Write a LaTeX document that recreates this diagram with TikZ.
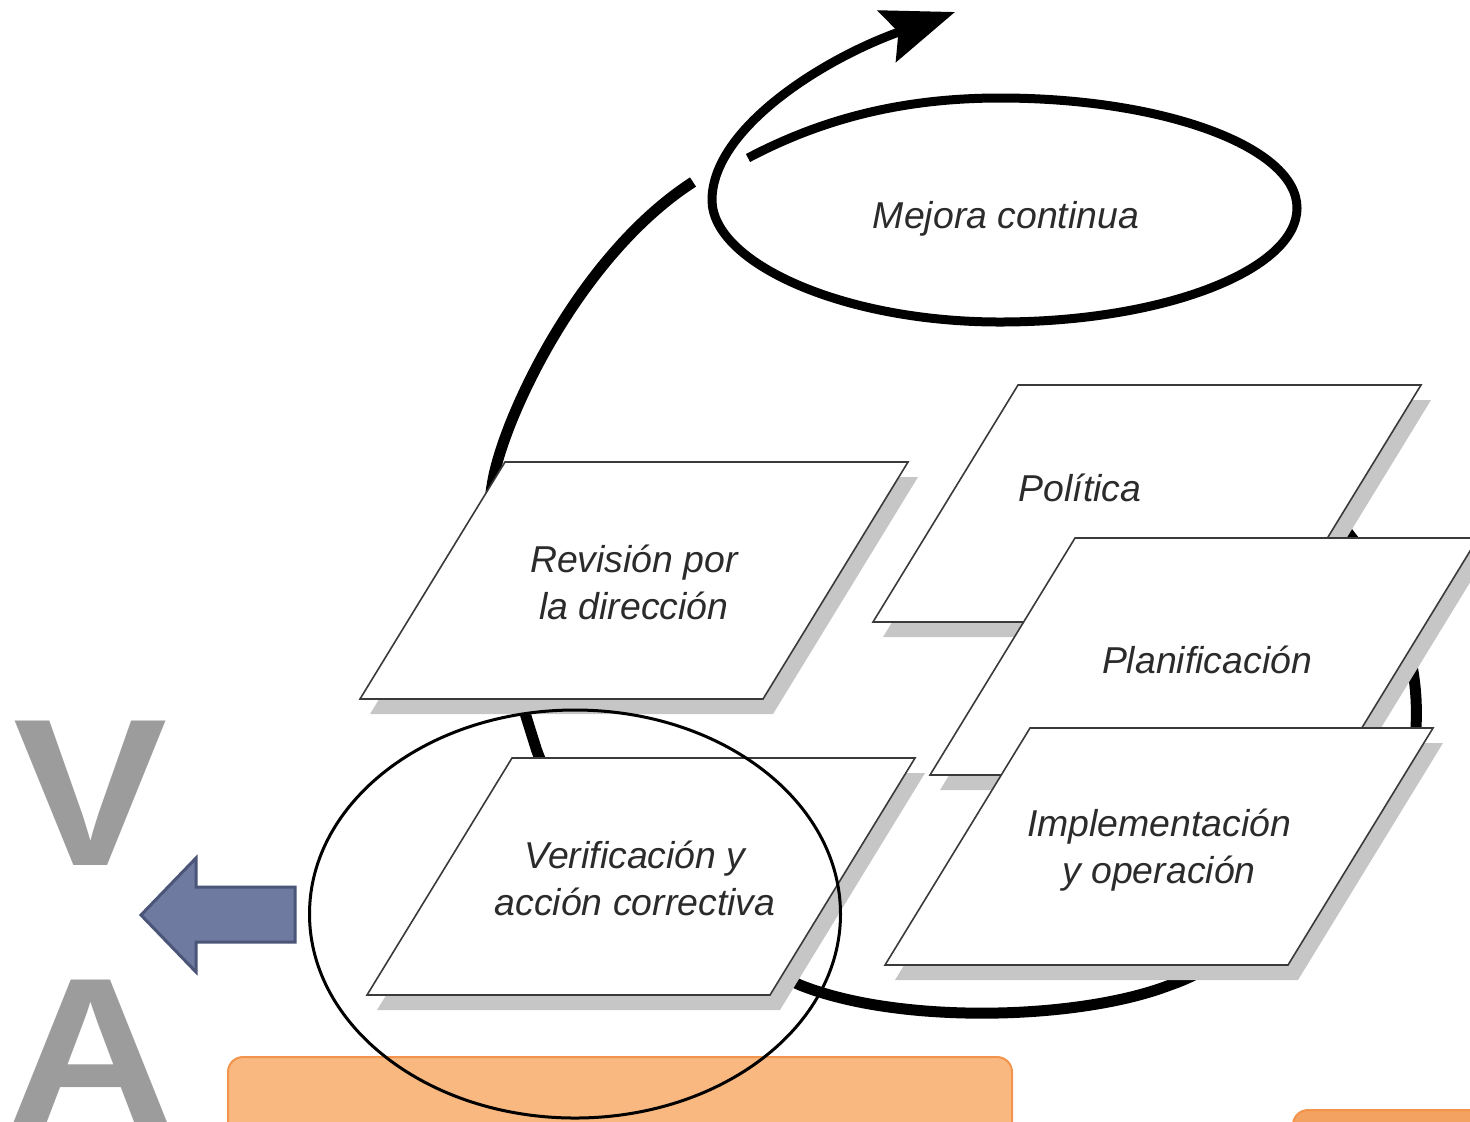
\documentclass[tikz,border=0pt]{standalone}
\usepackage{fontspec}
\setmainfont{Liberation Sans}
\usetikzlibrary{arrows.meta}
\definecolor{sombra}{HTML}{C6C6C6}
\definecolor{borde}{HTML}{3A3A3A}
\definecolor{texto}{HTML}{2B2B2B}
\definecolor{naranja}{HTML}{F8B880}
\definecolor{naranjaborde}{HTML}{F2944C}
\definecolor{naranjados}{HTML}{F4A262}
\definecolor{azul}{HTML}{6F7AA0}
\definecolor{azulborde}{HTML}{4A5577}
\definecolor{letra}{HTML}{9C9C9C}

\begin{document}
\begin{tikzpicture}[x=0.5pt, y=-0.5pt,
  paso/.style={draw=borde, line width=0.8pt, fill=white},
  sombrapaso/.style={fill=sombra},
  etiqueta/.style={font=\fontsize{18.7}{23.5}\selectfont\itshape, text=texto, align=center, inner sep=0pt},
  ciclo/.style={line width=5.5pt, black},
  letras/.style={font=\fontsize{105}{105}\selectfont\bfseries, text=letra, inner sep=0pt, xscale=1.1}]
\useasboundingbox (0,0) rectangle (1470,1121);
\clip (0,0) rectangle (1470,1121);

\filldraw[fill=naranja, draw=naranjaborde, line width=1pt, rounded corners=7.5pt] (228,1057) rectangle (1012,1160);
\filldraw[fill=naranjados, draw=naranjaborde, line width=1pt, rounded corners=7.5pt] (1293,1110) rectangle (1500,1160);

\coordinate (c0) at (1290,470);
\coordinate (c5) at (693,182);
\draw[ciclo] (c0) .. controls (1380,555) and (1425,640) .. (1415,740)
  .. controls (1395,860) and (1230,965) .. (1170,985)
  .. controls (1080,1020) and (900,1025) .. (800,985)
  .. controls (700,940) and (560,830) .. (535,745)
  .. controls (505,650) and (478,560) .. (493,480)
  .. controls (505,415) and (580,255) .. (c5);

\foreach \x/\y/\n/\dx/\dy/\t in {1018/385/pol/-67/-17/{Política},
  1075/538/pla/3/2/{Planificación},
  1030/728/imp/0/2/{Implementación\\y operación},
  505/462/rev/0/0/{Revisión por\\la dirección},
  512/758/ver/-6/0/{Verificación y\\acción correctiva}}{
  \fill[sombrapaso] (\x+10,\y+15) -- ++(403,0) -- ++(-145,237) -- ++(-403,0) -- cycle;
  \draw[paso] (\x,\y) -- ++(403,0) -- ++(-145,237) -- ++(-403,0) -- cycle;
  \node[etiqueta] (\n) at (\x+129+\dx,\y+120+\dy) {\t};
}

\node[etiqueta] (mejora) at (1006,219) {Mejora continua};
\draw[line width=4.5pt, -{Stealth[length=36pt, width=27pt, inset=6pt]}]
  (748,158) .. controls (820,120) and (900,98) .. (1000,98)
  .. controls (1164,98) and (1297,147) .. (1297,208)
  .. controls (1297,270) and (1164,322) .. (1000,322)
  .. controls (841,322) and (712,262) .. (712,200)
  .. controls (712,130) and (820,60) .. (955,12);

\draw[line width=1.5pt] (575,914) ellipse [x radius=132.75pt, y radius=102pt];

\filldraw[fill=azul, draw=azulborde, line width=1.5pt] (295,887) -- (196,887) -- (196,858) -- (141,915) -- (196,972) -- (196,942) -- (295,942) -- cycle;

\node[letras] (letraV) at (91,793) {V};
\node[letras, anchor=base] (letraA) at (91,1124) {A};
\end{tikzpicture}
\end{document}
